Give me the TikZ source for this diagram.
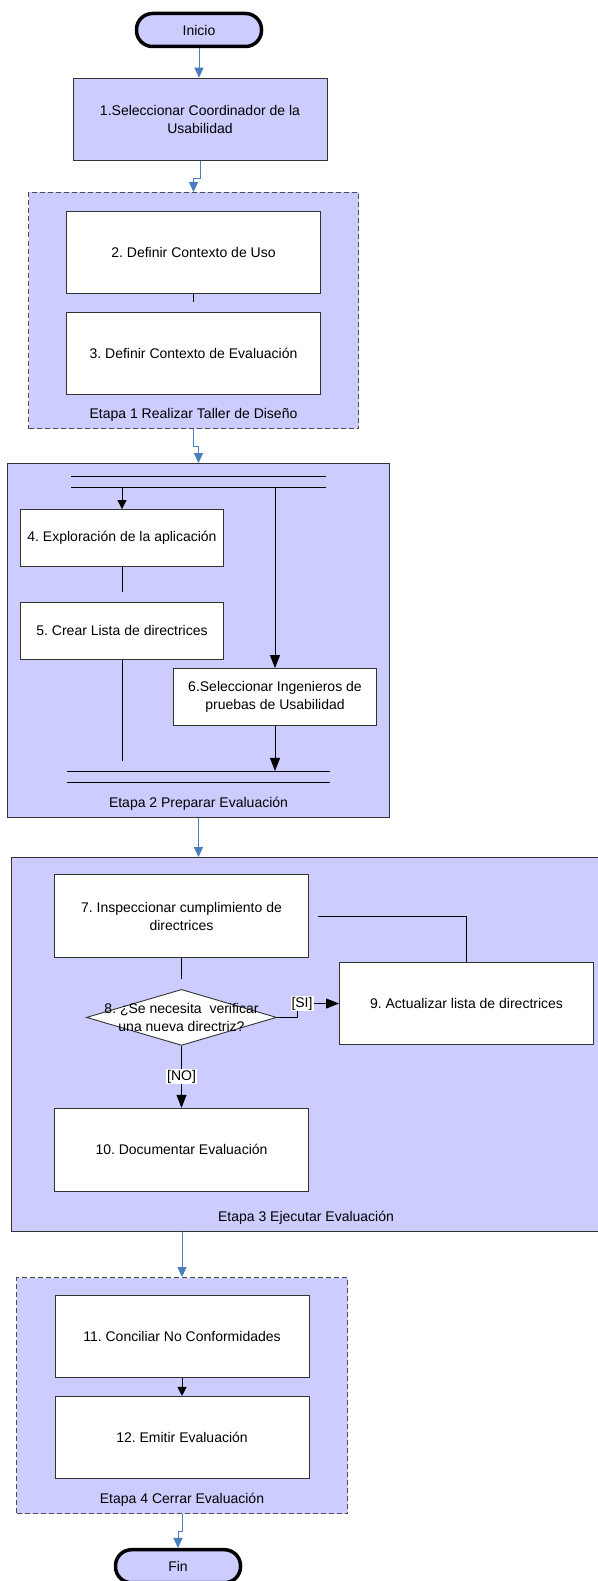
\documentclass[tikz,border=0pt]{standalone}
\usepackage{fontspec}
\setmainfont{Liberation Sans}
\frenchspacing
\usetikzlibrary{arrows.meta, positioning, shapes.geometric}
\definecolor{lila}{RGB}{204,204,255}
\definecolor{azul}{RGB}{74,126,193}
\definecolor{borde}{RGB}{51,51,51}

\begin{document}
\begin{tikzpicture}[
    x=1pt, y=1pt,
    font=\fontsize{14pt}{18pt}\selectfont,
    term/.style={
        rectangle,
        rounded corners=16pt,
        draw=black,
        line width=3.5pt,
        fill=lila,
        minimum width=125pt,
        minimum height=33pt,
        inner sep=0pt
    },
    act/.style={
        rectangle,
        draw=borde,
        line width=0.9pt,
        fill=white,
        align=center,
        minimum width=254pt,
        minimum height=82pt,
        inner sep=2pt
    },
    actp/.style={
        act,
        minimum width=203pt,
        minimum height=57pt
    },
    decision/.style={
        diamond,
        draw=borde,
        line width=0.9pt,
        fill=white,
        minimum width=190pt,
        minimum height=56pt,
        inner sep=0pt
    },
    marco/.style={
        rectangle,
        draw=borde,
        line width=0.9pt,
        fill=lila
    },
    etapa/.style={
        marco,
        draw=black!70,
        dash pattern=on 5pt off 3pt
    },
    barra/.style={
        rectangle,
        draw=none,
        minimum height=11pt,
        inner sep=0pt,
        outer sep=0pt
    },
    rotulo/.style={inner sep=0pt},
    guarda/.style={fill=white, inner sep=1pt},
    linea/.style={draw=black, line width=0.9pt},
    flecha/.style={linea, -{Triangle[length=13pt,width=10pt]}},
    flecha corta/.style={linea, -{Triangle[length=9pt,width=9pt]}},
    flujo/.style={draw=azul, line width=1pt, -{Triangle[length=10pt,width=9pt]}}
]
\useasboundingbox (0,0) rectangle (597,-1581);

% ---------------- Inicio ----------------
\node[term] (inicio) at (199,-30) {Inicio};
\node[act, fill=lila, below=29.5pt of inicio, xshift=1pt] (s1) {1.Seleccionar Coordinador de la\\Usabilidad};

% ---------------- Etapa 1 ----------------
\node[etapa, minimum width=330pt, minimum height=236pt] (etapa1) at (193.5,-310.5) {};
\node[act, below=19pt of etapa1.north] (a2) {2. Definir Contexto de Uso};
\node[act, below=18pt of a2] (a3) {3. Definir Contexto de Evaluación};
\node[rotulo, above=7pt of etapa1.south] {Etapa 1 Realizar Taller de Diseño};

\coordinate[below=8pt of a2.south] (c2);
\draw[linea] (a2.south) -- (c2);

% ---------------- Etapa 2 ----------------
\node[marco, minimum width=382pt, minimum height=354pt] (etapa2) at (198.5,-640.5) {};
\node[barra, minimum width=255pt, below=13pt of etapa2.north] (fork) {};
\node[actp, below right=46pt and 13pt of etapa2.north west] (a4) {4. Exploración de la aplicación};
\node[actp, below=35pt of a4] (a5) {5. Crear Lista de directrices};
\node[actp, below right=205pt and 166pt of etapa2.north west] (a6) {6.Seleccionar Ingenieros de\\pruebas de Usabilidad};
\node[barra, minimum width=263pt, above=36pt of etapa2.south] (join) {};
\node[rotulo, above=7pt of etapa2.south] {Etapa 2 Preparar Evaluación};

\draw[linea] (fork.north west) -- (fork.north east) (fork.south west) -- (fork.south east);
\draw[linea] (join.north west) -- (join.north east) (join.south west) -- (join.south east);
\draw[flecha corta] (fork.south -| a4.north) -- (a4.north);
\draw[flecha] (fork.south -| a6.north) -- (a6.north);
\coordinate[below=25pt of a4.south] (c4);
\draw[linea] (a4.south) -- (c4);
\coordinate[below=101pt of a5.south] (c5);
\draw[linea] (a5.south) -- (c5);
\draw[flecha] (a6.south) -- (a6.south |- join.north);

% ---------------- Etapa 3 ----------------
\node[marco, minimum width=589pt, minimum height=374pt] (etapa3) at (306,-1044.5) {};
\node[act, minimum height=83pt, below right=17pt and 43pt of etapa3.north west] (a7) {7. Inspeccionar cumplimiento de\\directrices};
\node[decision, below=31pt of a7, label={[align=center]center:{8. ¿Se necesita\ \ verificar\\una nueva directriz?}}] (d8) {};
\node[act, below right=105pt and 328pt of etapa3.north west] (a9) {9. Actualizar lista de directrices};
\node[act, minimum height=83pt, below=62pt of d8] (a10) {10. Documentar Evaluación};
\node[rotulo, above=7pt of etapa3.south] {Etapa 3 Ejecutar Evaluación};

\draw[linea] ([xshift=9pt]a7.east) -| (a9.north);
\coordinate[below=21pt of a7.south] (c7);
\draw[linea] (a7.south) -- (c7);
\draw[flecha] (d8.east) -- ++(20pt,0) |- (a9.west) node[pos=0.56, guarda] {[SI]};
\draw[flecha] (d8.south) -- (a10.north) node[midway, guarda] {[NO]};

% ---------------- Etapa 4 ----------------
\node[etapa, minimum width=331pt, minimum height=236pt] (etapa4) at (182,-1395.5) {};
\node[act, below=18pt of etapa4.north] (a11) {11. Conciliar No Conformidades};
\node[act, below=18pt of a11] (a12) {12. Emitir Evaluación};
\node[rotulo, above=7pt of etapa4.south] {Etapa 4 Cerrar Evaluación};
\node[term, below=34pt of etapa4, xshift=-4pt] (fin) {Fin};

\draw[flecha corta] (a11.south) -- (a12.north);

% ---------------- Flujo entre etapas ----------------
\draw[flujo] (inicio.south) -- (inicio.south |- s1.north);
\draw[flujo] (s1.south) -- ++(0,-18pt) -| (etapa1.north);
\draw[flujo] (etapa1.south) -- ++(0,-18pt) -| (etapa2.north);
\draw[flujo] (etapa2.south) -- (etapa2.south |- etapa3.north);
\draw[flujo] (etapa4.north |- etapa3.south) -- (etapa4.north);
\draw[flujo] (etapa4.south) -- ++(0,-18pt) -| (fin.north);

\end{tikzpicture}
\end{document}
